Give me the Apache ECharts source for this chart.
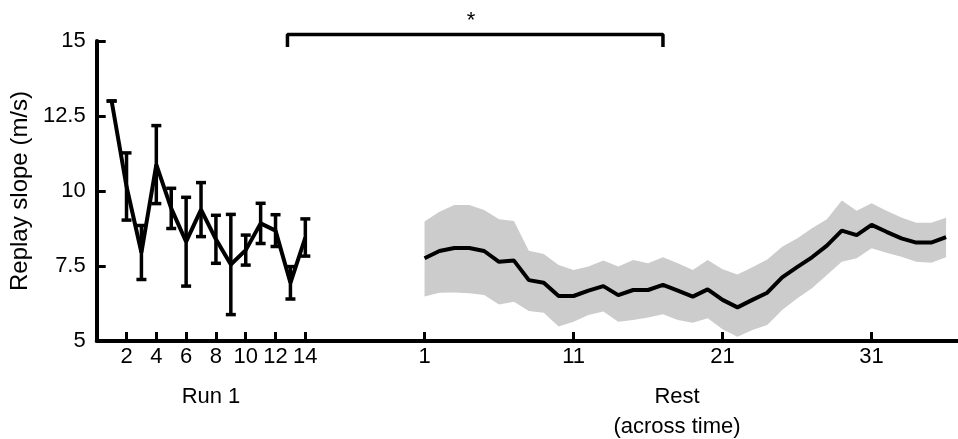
<!DOCTYPE html>
<html>
<head>
<meta charset="utf-8">
<script src="https://cdn.jsdelivr.net/npm/echarts@6/dist/echarts.min.js"></script>
<style>
  html, body { margin: 0; padding: 0; background: #fff; }
  #chart { width: 958px; height: 439px; }
</style>
</head>
<body>
<div id="chart"></div>
<script>
// Run 1 : mean replay slope per lap with error bar (SEM)
var runLaps = [1, 2, 3, 4, 5, 6, 7, 8, 9, 10, 11, 12, 13, 14];
var runMean = [13.0, 10.15, 7.95, 10.88, 9.42, 8.31, 9.38, 8.39, 7.55, 8.03, 8.92, 8.68, 6.94, 8.45];
var runErr = [0, 1.12, 0.9, 1.3, 0.67, 1.48, 0.9, 0.8, 1.67, 0.5, 0.67, 0.53, 0.54, 0.62];

// Rest : mean with shaded band (across time)
var restBins = [1, 2, 3, 4, 5, 6, 7, 8, 9, 10, 11, 12, 13, 14, 15, 16, 17, 18,
  19, 20, 21, 22, 23, 24, 25, 26, 27, 28, 29, 30, 31, 32, 33, 34, 35, 36];
var restMean = [7.76, 8.0, 8.1, 8.1, 8.0, 7.64, 7.68, 7.03, 6.94, 6.5, 6.5, 6.68,
  6.83, 6.53, 6.7, 6.7, 6.87, 6.68, 6.48, 6.72, 6.37, 6.12, 6.37, 6.61,
  7.12, 7.46, 7.79, 8.18, 8.68, 8.53, 8.87, 8.64, 8.42, 8.28, 8.28, 8.46];
var restUpper = [8.98, 9.31, 9.53, 9.53, 9.37, 9.06, 9.0, 8.01, 7.9, 7.53, 7.37, 7.48,
  7.68, 7.48, 7.7, 7.59, 7.79, 7.59, 7.37, 7.7, 7.39, 7.22, 7.46, 7.72,
  8.14, 8.42, 8.76, 9.06, 9.68, 9.34, 9.59, 9.34, 9.12, 8.94, 8.94, 9.11];
var restLower = [6.48, 6.61, 6.62, 6.59, 6.53, 6.22, 6.31, 6.0, 5.94, 5.48, 5.64, 5.87,
  5.98, 5.64, 5.7, 5.78, 5.89, 5.7, 5.61, 5.76, 5.39, 5.14, 5.37, 5.53,
  6.03, 6.42, 6.76, 7.2, 7.64, 7.76, 8.09, 7.94, 7.81, 7.64, 7.61, 7.79];

// tick labels
var runTicks = [2, 4, 6, 8, 10, 12, 14];
var restTicks = [1, 11, 21, 31];

// significance bracket: from run lap to rest bin
var bracketFrom = 12.8;   // run 1 x
var bracketTo = 17.0;     // rest x

var REST_OFFSET = 21; // rest bin 1 sits at shared x = 22
var FONT = "'Liberation Sans', Arial, sans-serif";

var myChart = echarts.init(document.getElementById("chart"));

var runLine = [];
var runBars = [];
for (let i = 0; i < runLaps.length; i++) {
  runLine.push([runLaps[i], runMean[i]]);
  runBars.push([runLaps[i], runMean[i] - runErr[i], runMean[i] + runErr[i]]);
}
var restLine = [];
var restBand = [];
for (let i = 0; i < restBins.length; i++) {
  var x = restBins[i] + REST_OFFSET;
  restLine.push([x, restMean[i]]);
  restBand.push([x, restLower[i], restUpper[i]]);
}
var tickValues = runTicks.concat(restTicks.map(function (t) { return t + REST_OFFSET; }));

var bx1 = bracketFrom, bx2 = bracketTo + REST_OFFSET;
var bracket = [[bx1, 14.8], [bx1, 15.22], [bx2, 15.22], [bx2, 14.8]];

var option = {
  backgroundColor: "#fff",
  animation: false,
  grid: { left: 94, right: 0, top: 41, bottom: 98 },
  xAxis: {
    type: "value",
    min: 0,
    max: 57.8,
    splitLine: { show: false },
    axisLine: { show: true, lineStyle: { color: "#000", width: 4 } },
    axisTick: {
      show: true, inside: true, length: 9,
      lineStyle: { color: "#000", width: 3 },
      customValues: tickValues,
    },
    axisLabel: {
      color: "#000", fontSize: 22, fontFamily: FONT, margin: 5,
      customValues: tickValues,
      formatter: function (v) {
        return v > 14 ? String(v - REST_OFFSET) : String(v);
      },
    },
  },
  yAxis: {
    type: "value",
    min: 5,
    max: 15,
    interval: 2.5,
    splitLine: { show: false },
    axisLine: { show: true, lineStyle: { color: "#000", width: 4 } },
    axisTick: { show: true, inside: true, length: 9, lineStyle: { color: "#000", width: 3 } },
    axisLabel: { color: "#000", fontSize: 22, fontFamily: FONT, margin: 11 },
    name: "Replay slope (m/s)",
    nameLocation: "middle",
    nameGap: 46,
    nameTextStyle: { color: "#000", fontSize: 24, fontFamily: FONT },
  },
  series: [
    {
      name: "band",
      type: "custom",
      data: restBand,
      silent: true,
      z: 1,
      renderItem: function (params, api) {
        // whole band drawn once as one polygon
        if (params.dataIndex !== 0) return null;
        var pts = [];
        for (let i = 0; i < restBand.length; i++) {
          pts.push(api.coord([restBand[i][0], restBand[i][2]]));
        }
        for (let i = restBand.length - 1; i >= 0; i--) {
          pts.push(api.coord([restBand[i][0], restBand[i][1]]));
        }
        return { type: "polygon", shape: { points: pts }, style: { fill: "#cccccc" } };
      },
    },
    {
      name: "rest",
      type: "line",
      data: restLine,
      symbol: "none",
      lineStyle: { color: "#000", width: 4 },
      z: 3,
    },
    {
      name: "run",
      type: "line",
      data: runLine,
      symbol: "none",
      lineStyle: { color: "#000", width: 4 },
      z: 3,
    },
    {
      name: "run err",
      type: "custom",
      data: runBars,
      z: 4,
      renderItem: function (params, api) {
        var lo = api.coord([api.value(0), api.value(1)]);
        var hi = api.coord([api.value(0), api.value(2)]);
        var w = 5;
        var st = { stroke: "#000", lineWidth: 3.5 };
        return {
          type: "group",
          children: [
            { type: "line", shape: { x1: lo[0], y1: lo[1], x2: hi[0], y2: hi[1] }, style: st },
            { type: "line", shape: { x1: lo[0] - w, y1: lo[1], x2: lo[0] + w, y2: lo[1] }, style: st },
            { type: "line", shape: { x1: hi[0] - w, y1: hi[1], x2: hi[0] + w, y2: hi[1] }, style: st },
          ],
        };
      },
    },
    {
      name: "bracket",
      type: "line",
      data: bracket,
      symbol: "none",
      clip: false,
      lineStyle: { color: "#000", width: 3.5 },
      z: 3,
    },
  ],
  graphic: [
    {
      type: "text", x: 211, y: 397,
      style: { text: "Run 1", fill: "#000", font: "22px " + FONT, align: "center", verticalAlign: "middle" },
    },
    {
      type: "text", x: 677, y: 412,
      style: { text: "Rest\n(across time)", fill: "#000", font: "22px " + FONT, lineHeight: 30, align: "center", verticalAlign: "middle" },
    },
    {
      type: "text", x: 471, y: 21,
      style: { text: "*", fill: "#000", font: "22px " + FONT, align: "center", verticalAlign: "middle" },
    },
  ],
};
myChart.setOption(option);
</script>
</body>
</html>
